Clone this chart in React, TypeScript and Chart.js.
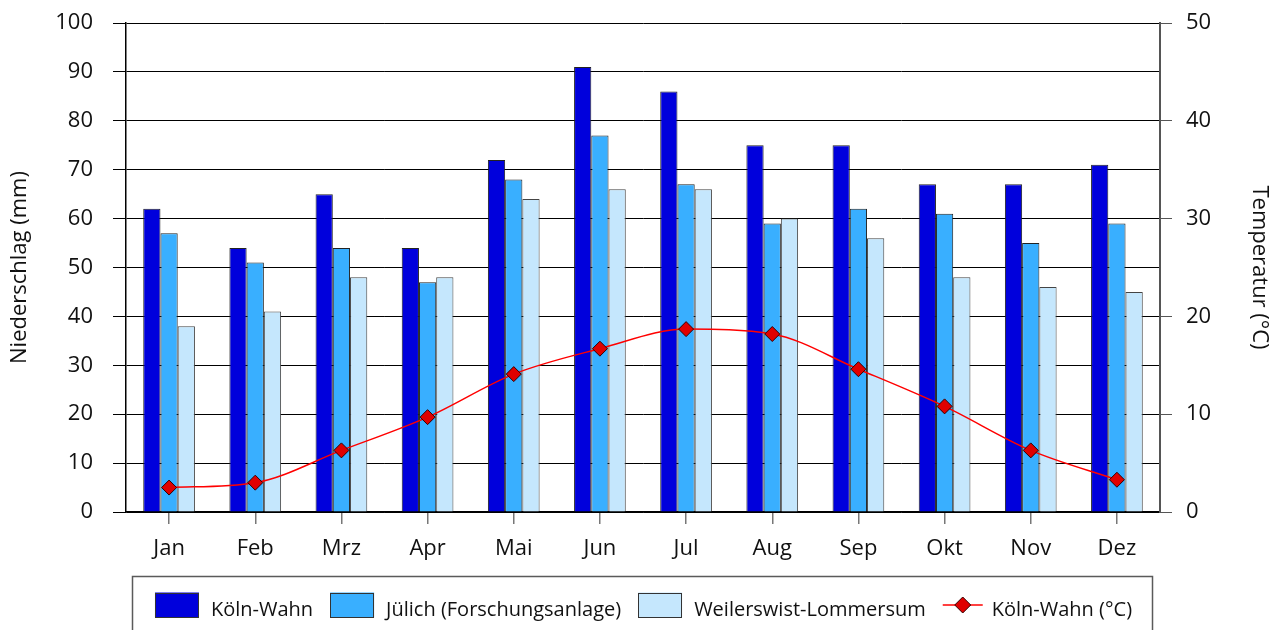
import React, { useEffect, useRef } from "react";
import { Chart, registerables } from "chart.js";

Chart.register(...registerables);

const months = ["Jan", "Feb", "Mrz", "Apr", "Mai", "Jun", "Jul", "Aug", "Sep", "Okt", "Nov", "Dez"];
const koelnWahnRain = [62, 54, 65, 54, 72, 91, 86, 75, 75, 67, 67, 71];
const juelichRain = [57, 51, 54, 47, 68, 77, 67, 59, 62, 61, 55, 59];
const weilerswistRain = [38, 41, 48, 48, 64, 66, 66, 60, 56, 48, 46, 45];
const koelnWahnTemp = [2.5, 3.0, 6.3, 9.7, 14.1, 16.7, 18.7, 18.2, 14.6, 10.8, 6.3, 3.3];

const seriesLabels = ["Köln-Wahn", "Jülich (Forschungsanlage)", "Weilerswist-Lommersum", "Köln-Wahn (°C)"];
const leftAxisTitle = "Niederschlag (mm)";
const rightAxisTitle = "Temperatur (°C)";

const FONT = "'Open Sans', 'DejaVu Sans', sans-serif";
const C_KW = "#0000DC";
const C_J = "#39AFFF";
const C_W = "#C5E7FD";
const C_LINE = "#FF0000";
const C_MARK = "#E00000";

const boxLegend = {
  id: "boxLegend",
  afterDraw(chart: any) {
    const ctx = chart.ctx as CanvasRenderingContext2D;
    ctx.save();
    ctx.strokeStyle = "#5a5a5a";
    ctx.lineWidth = 1.5;
    ctx.strokeRect(132.5, 576.5, 1020, 90);
    ctx.font = `20px ${FONT}`;
    ctx.textBaseline = "alphabetic";
    ctx.fillStyle = "#111";
    const ds = chart.data.datasets;
    const cy = 605;
    const baseY = 616;
    const boxW = 44;
    const boxH = 25;
    const lineW = 40;
    const gapIcon = 12;
    const gapLine = 9;
    const gapItem = 17;
    const widths = ds.map((d: any) => {
      const iconW = d.type === "line" ? lineW : boxW;
      const g = d.type === "line" ? gapLine : gapIcon;
      return iconW + g + ctx.measureText(d.label).width;
    });
    const total = widths.reduce((a: number, b: number) => a + b, 0) + gapItem * (ds.length - 1);
    let x = 643.5 - total / 2;
    ds.forEach((d: any, i: number) => {
      if (d.type === "line") {
        ctx.strokeStyle = d.borderColor;
        ctx.lineWidth = 1.5;
        ctx.beginPath();
        ctx.moveTo(x, cy);
        ctx.lineTo(x + lineW, cy);
        ctx.stroke();
        const mx = x + lineW / 2;
        const r = 8;
        ctx.beginPath();
        ctx.moveTo(mx, cy - r);
        ctx.lineTo(mx + r, cy);
        ctx.lineTo(mx, cy + r);
        ctx.lineTo(mx - r, cy);
        ctx.closePath();
        ctx.fillStyle = d.pointBackgroundColor;
        ctx.fill();
        ctx.strokeStyle = "#300";
        ctx.lineWidth = 1;
        ctx.stroke();
        ctx.fillStyle = "#111";
        ctx.fillText(d.label, x + lineW + gapLine, baseY);
      } else {
        ctx.fillStyle = d.backgroundColor;
        ctx.fillRect(x, cy - boxH / 2, boxW, boxH);
        ctx.strokeStyle = "#333";
        ctx.lineWidth = 1;
        ctx.strokeRect(Math.round(x) + 0.5, Math.round(cy - boxH / 2) + 0.5, boxW - 1, boxH - 1);
        ctx.fillStyle = "#111";
        ctx.fillText(d.label, x + boxW + gapIcon, baseY);
      }
      x += widths[i] + gapItem;
    });
    ctx.restore();
  },
};

export default function App() {
  const ref = useRef<HTMLCanvasElement | null>(null);
  useEffect(() => {
    if (!ref.current) return;
    const barCommon = {
      type: "bar",
      borderColor: "#222",
      borderWidth: 1,
      yAxisID: "y",
      order: 1,
      categoryPercentage: 0.6,
      barPercentage: 1.0,
    };
    const chart = new Chart(ref.current, {
      type: "bar",
      data: {
        labels: months,
        datasets: [
          { ...barCommon, label: seriesLabels[0], data: koelnWahnRain, backgroundColor: C_KW } as any,
          { ...barCommon, label: seriesLabels[1], data: juelichRain, backgroundColor: C_J } as any,
          { ...barCommon, label: seriesLabels[2], data: weilerswistRain, backgroundColor: C_W, borderColor: "#444" } as any,
          {
            type: "line",
            label: seriesLabels[3],
            data: koelnWahnTemp,
            borderColor: C_LINE,
            borderWidth: 1.5,
            pointStyle: "rectRot",
            pointRadius: 7.5,
            pointBackgroundColor: C_MARK,
            pointBorderColor: "#300",
            pointBorderWidth: 1,
            cubicInterpolationMode: "monotone",
            yAxisID: "y1",
            order: 0,
          } as any,
        ],
      },
      options: {
        responsive: false,
        animation: false,
        layout: { padding: { top: 23, left: 0, right: 0, bottom: 0 } },
        plugins: {
          legend: { display: false },
          tooltip: { enabled: false },
        },
        scales: {
          x: {
            offset: true,
            grid: { drawOnChartArea: false, offset: false, tickLength: 12, color: "#777", lineWidth: 1.5 },
            border: { display: true, color: "#000", width: 1.5 },
            ticks: { font: { family: FONT, size: 22 }, color: "#111", padding: 12 },
            afterFit: (s: any) => {
              s.height = 650 - 512;
              s.paddingLeft = 0;
              s.paddingRight = 0;
            },
          },
          y: {
            position: "left",
            min: 0,
            max: 100,
            ticks: { stepSize: 10, font: { family: FONT, size: 22 }, color: "#111", padding: 20 },
            grid: { color: "#000", lineWidth: 1, tickLength: 13 },
            border: { display: true, color: "#000", width: 1.5 },
            title: {
              display: true,
              text: leftAxisTitle,
              font: { family: FONT, size: 22 },
              color: "#111",
              padding: { top: 7, bottom: 0 },
            },
            afterFit: (s: any) => {
              s.width = 126;
              s.paddingTop = 0;
              s.paddingBottom = 0;
            },
          },
          y1: {
            position: "right",
            min: 0,
            max: 50,
            ticks: { stepSize: 10, font: { family: FONT, size: 22 }, color: "#111", padding: 14 },
            grid: { drawOnChartArea: false, color: "#555", lineWidth: 1, tickLength: 12 },
            border: { display: true, color: "#555", width: 2 },
            title: {
              display: true,
              text: rightAxisTitle,
              font: { family: FONT, size: 22 },
              color: "#111",
              padding: { top: 7, bottom: 0 },
            },
            afterFit: (s: any) => {
              s.width = 1279 - 1160;
              s.paddingTop = 0;
              s.paddingBottom = 0;
            },
          },
        },
      },
      plugins: [boxLegend],
    });
    return () => chart.destroy();
  }, []);

  return (
    <div
      style={{
        position: "fixed",
        left: 0,
        top: 0,
        width: 1279,
        height: 630,
        overflow: "hidden",
        background: "#fff",
      }}
    >
      <canvas ref={ref} width={1279} height={650} style={{ display: "block" }} />
    </div>
  );
}
